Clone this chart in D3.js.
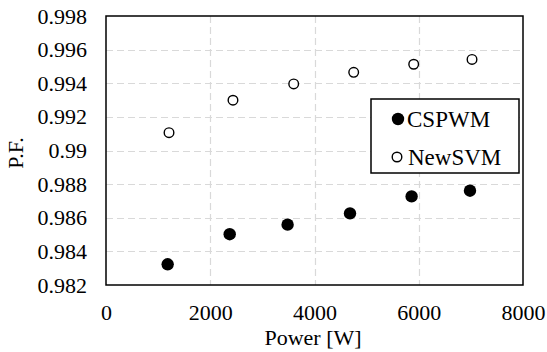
<!DOCTYPE html>
<html>
<head>
<meta charset="utf-8">
<script src="https://cdn.jsdelivr.net/npm/d3@7"></script>
<style>
  html, body { margin: 0; padding: 0; background: #fff; }
  svg { display: block; }
</style>
</head>
<body>
<svg id="chart" width="547" height="352"></svg>
<script>
// ---- data ----
const seriesNames = ["CSPWM", "NewSVM"];
const powerCSPWM = [1183, 2373, 3484, 4681, 5863, 6983];
const pfCSPWM = [0.98323, 0.98502, 0.98559, 0.98626, 0.98727, 0.98761];
const powerNewSVM = [1209, 2436, 3601, 4752, 5903, 7022];
const pfNewSVM = [0.99106, 0.99299, 0.99396, 0.99465, 0.99513, 0.99542];
const xTicks = [0, 2000, 4000, 6000, 8000];
const yTicks = [0.982, 0.984, 0.986, 0.988, 0.99, 0.992, 0.994, 0.996, 0.998];
const xTitle = "Power [W]";
const yTitle = "P.F.";

// ---- layout ----
const FONT = "'Liberation Serif'";
const W = 547, H = 352;
const m = { left: 106, top: 16, right: 24, bottom: 67 };
const iw = W - m.left - m.right, ih = H - m.top - m.bottom;

const svg = d3.select("#chart");
const g = svg.append("g").attr("transform", `translate(${m.left},${m.top})`);

const x = d3.scaleLinear().domain([0, 8000]).range([0, iw]);
const y = d3.scaleLinear().domain([0.982, 0.998]).range([ih, 0]);

// gridlines
g.append("g").selectAll("line")
  .data(yTicks.slice(1, -1)).join("line")
  .attr("x1", 0).attr("x2", iw)
  .attr("y1", d => Math.round(y(d)) + 0.5).attr("y2", d => Math.round(y(d)) + 0.5)
  .attr("stroke", "#d9d9d9").attr("stroke-width", 1.2).attr("stroke-dasharray", "7,4");
g.append("g").selectAll("line")
  .data(xTicks.slice(1, -1)).join("line")
  .attr("y1", 0).attr("y2", ih)
  .attr("x1", d => Math.round(x(d)) + 0.5).attr("x2", d => Math.round(x(d)) + 0.5)
  .attr("stroke", "#d9d9d9").attr("stroke-width", 1.2).attr("stroke-dasharray", "7,4");

// axes (labels only, no tick marks)
const fmtY = d => String(+d.toFixed(3));
const yAxis = g.append("g")
  .call(d3.axisLeft(y).tickValues(yTicks).tickFormat(fmtY).tickSize(0).tickPadding(19));
const xAxis = g.append("g").attr("transform", `translate(0,${ih})`)
  .call(d3.axisBottom(x).tickValues(xTicks).tickFormat(d3.format("d")).tickSize(0).tickPadding(19));
[yAxis, xAxis].forEach(a => {
  a.attr("font-family", null).attr("font-size", null);
  a.select(".domain").remove();
  a.selectAll("text").attr("fill", "#000").attr("font-family", FONT).attr("font-size", 22);
});

// frame
g.append("rect").attr("x", 0).attr("y", 0).attr("width", iw).attr("height", ih)
  .attr("fill", "none").attr("stroke", "#000").attr("stroke-width", 1.5);

// points
const dataC = powerCSPWM.map((p, i) => ({ p, v: pfCSPWM[i] }));
const dataN = powerNewSVM.map((p, i) => ({ p, v: pfNewSVM[i] }));
g.append("g").selectAll("circle").data(dataC).join("circle")
  .attr("cx", d => x(d.p)).attr("cy", d => y(d.v)).attr("r", 6.2).attr("fill", "#000");
g.append("g").selectAll("circle").data(dataN).join("circle")
  .attr("cx", d => x(d.p)).attr("cy", d => y(d.v)).attr("r", 4.8)
  .attr("fill", "#fff").attr("stroke", "#000").attr("stroke-width", 1.4);

// axis titles
svg.append("text").attr("x", 313).attr("y", 345).attr("text-anchor", "middle")
  .attr("font-family", FONT).attr("font-size", 22).text(xTitle);
svg.append("text").attr("transform", "translate(23,153) rotate(-90)").attr("text-anchor", "middle")
  .attr("font-family", FONT).attr("font-size", 22).text(yTitle);

// legend
const lg = svg.append("g");
lg.append("rect").attr("x", 371).attr("y", 99).attr("width", 148).attr("height", 74)
  .attr("fill", "#fff").attr("stroke", "#000").attr("stroke-width", 1.5);
lg.append("circle").attr("cx", 398).attr("cy", 119).attr("r", 6.2).attr("fill", "#000");
lg.append("circle").attr("cx", 397).attr("cy", 157).attr("r", 4.8)
  .attr("fill", "#fff").attr("stroke", "#000").attr("stroke-width", 1.4);
lg.append("text").attr("x", 407).attr("y", 127).attr("font-family", FONT).attr("font-size", 23).text(seriesNames[0]);
lg.append("text").attr("x", 408).attr("y", 165).attr("font-family", FONT).attr("font-size", 23).text(seriesNames[1]);
</script>
</body>
</html>
